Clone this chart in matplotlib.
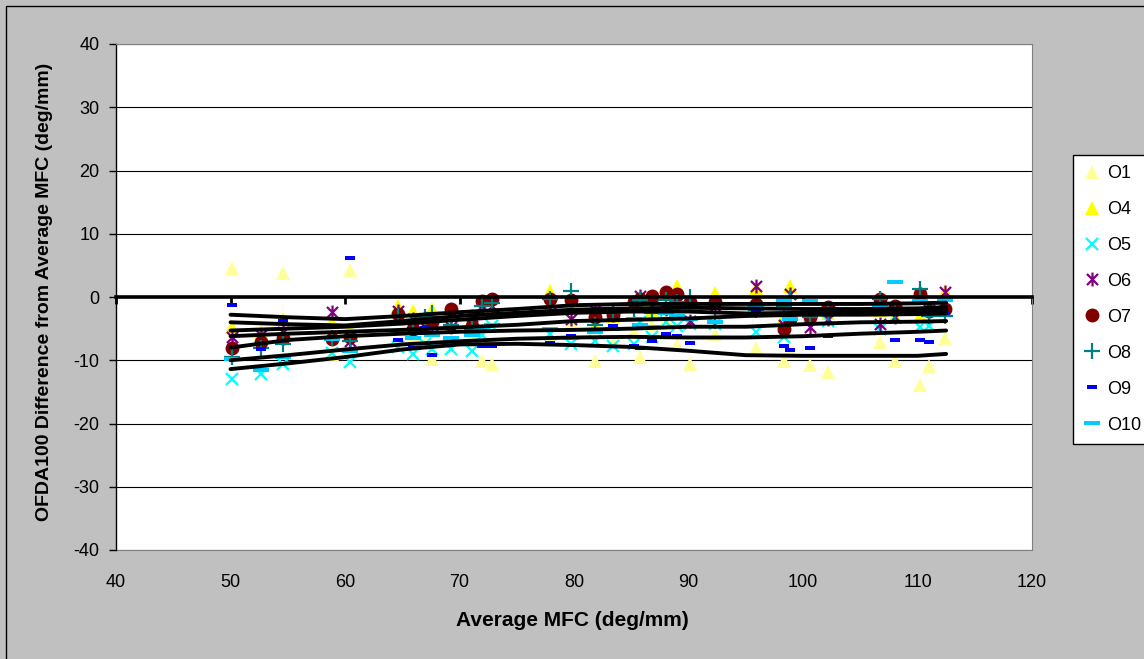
import matplotlib
matplotlib.use("Agg")
import matplotlib.pyplot as plt
from matplotlib.path import Path
from matplotlib.patches import Rectangle

plt.rcParams['font.family'] = ['Liberation Sans', 'DejaVu Sans']
plt.rcParams['axes.unicode_minus'] = False

# average MFC per sample (deg/mm)
mfc = [50.1, 52.7, 54.6, 58.9, 60.4, 64.6, 65.9, 67.0, 67.6, 69.3, 71.1, 72.0,
       72.8, 77.9, 79.7, 81.8, 83.4, 85.2, 85.8, 86.8, 88.0, 89.0, 90.1, 92.3,
       95.9, 98.3, 98.9, 100.6, 102.2, 106.7, 108.0, 110.2, 111.0, 112.4]

# OFDA100 minus average MFC, per operator
o1 = [4.6, -6.5, 3.8, -9.0, 4.3, -3.5, -6.0, -7.0, -9.8, -6.5, -6.0, -10.1,
      -10.6, -6.5, -4.0, -10.1, -7.0, -5.5, -9.5, -4.5, -3.5, -7.6, -10.6, -5.8,
      -8.0, -10.1, -8.5, -10.7, -11.8, -7.1, -10.1, -13.9, -10.9, -6.5]
o4 = [-4.8, -5.5, -3.5, -4.0, -5.0, -1.4, -2.2, -3.0, -1.9, -4.7, -3.5, -2.5,
      -2.0, 1.0, -1.5, -4.6, -3.0, -1.5, -0.5, -2.0, -1.0, 1.7, -0.5, 0.6,
      1.5, -3.0, 1.8, -3.5, -2.5, -2.0, -3.0, -3.0, -2.0, 1.0]
o5 = [-13.0, -12.2, -10.6, -8.8, -10.3, -7.9, -9.0, -7.5, -8.2, -8.2, -8.6, -6.0,
      -4.6, -5.8, -7.4, -6.9, -7.7, -7.4, -4.0, -6.3, -4.0, -4.6, -4.3, -4.3,
      -5.5, -6.3, -3.5, -3.0, -3.8, -5.1, -3.2, -4.7, -4.6, -2.2]
o6 = [-6.3, -6.0, -5.5, -2.4, -7.0, -2.2, -3.5, -4.7, -4.5, -4.8, -3.0, -1.5,
      -1.5, -1.0, -3.5, -2.0, -2.5, -1.0, 0.1, -1.5, -1.9, -1.0, -3.8, -1.5,
      1.8, -4.5, 0.5, -4.7, -3.5, -4.3, -3.2, 0.5, -2.0, 0.8]
o7 = [-8.1, -7.1, -6.5, -6.6, -6.3, -2.7, -5.0, -3.5, -4.0, -1.9, -4.6, -0.6,
      -0.3, -0.3, -0.5, -3.2, -2.8, -0.8, -0.3, 0.2, 0.8, 0.5, -0.8, -0.8,
      -1.1, -5.0, -3.5, -3.2, -1.6, -0.3, -1.4, 0.5, -2.2, -1.9]
o8 = [-9.5, -8.0, -7.5, -6.5, -7.0, -3.0, -4.0, -3.2, -2.5, -4.5, -5.0, -1.5,
      -1.0, -0.3, 1.0, -4.5, -2.5, -2.0, -0.5, -2.5, -0.5, -0.8, 0.0, -3.8,
      -2.0, -1.5, -0.2, -3.2, -2.5, -0.3, -2.5, 1.3, -3.0, -3.0]
o9 = [-1.3, -8.2, -3.8, -6.5, 6.1, -6.8, -8.1, -4.9, -9.2, -4.9, -5.5, -7.7,
      -7.7, -7.3, -6.2, -5.5, -4.6, -7.7, -8.1, -6.9, -5.8, -6.2, -7.3, -4.0,
      -2.2, -7.7, -8.4, -8.1, -6.2, -2.5, -6.8, -6.8, -7.1, -2.5]
o10 = [-9.8, -11.5, -9.5, -6.6, -8.5, -5.5, -6.5, -7.5, -6.0, -6.5, -6.0, -5.1,
       -4.5, -5.0, -6.5, -5.5, -5.1, -3.5, -4.5, -4.7, -2.5, -3.0, -3.5, -4.0,
       -1.5, -0.5, -3.5, -0.6, -2.7, -1.5, 2.3, -0.6, -2.0, -0.5]

# trend curves
trend_x = [50, 55, 60, 65, 70, 75, 80, 85, 90, 95, 100, 105, 110, 112.5]
trends = [
    [-2.8, -3.2, -3.5, -3.0, -2.4, -1.9, -1.3, -1.1, -1.1, -1.1, -1.1, -1.1, -1.0, -0.9],
    [-4.0, -4.3, -4.5, -3.8, -3.0, -2.5, -2.0, -1.8, -1.7, -1.8, -1.9, -1.9, -1.8, -1.6],
    [-5.3, -5.0, -4.7, -4.2, -3.6, -3.0, -2.5, -2.3, -2.3, -2.6, -2.5, -2.3, -2.2, -2.0],
    [-6.2, -5.8, -5.5, -5.2, -4.8, -4.4, -3.8, -3.6, -3.4, -3.0, -2.8, -2.8, -2.7, -2.6],
    [-8.0, -6.8, -6.2, -5.8, -5.5, -5.3, -5.2, -5.0, -4.7, -4.7, -4.3, -4.0, -3.9, -3.8],
    [-10.0, -9.2, -8.3, -7.5, -7.0, -6.6, -6.4, -6.3, -6.4, -6.4, -6.2, -5.8, -5.5, -5.3],
    [-11.4, -10.5, -9.5, -8.3, -7.5, -7.4, -7.6, -7.9, -8.5, -9.2, -9.3, -9.3, -9.3, -9.0],
]

# custom markers: Excel-style star and dashes
star = Path([(0, -1), (0, 1), (-0.8, -0.8), (0.8, 0.8), (-0.8, 0.8), (0.8, -0.8)],
            [Path.MOVETO, Path.LINETO] * 3)
dash_s = Path([(-1, -0.5), (1, -0.5), (1, 0.5), (-1, 0.5), (-1, -0.5)],
              [Path.MOVETO, Path.LINETO, Path.LINETO, Path.LINETO, Path.CLOSEPOLY])
dash_l = Path([(-1, -0.32), (1, -0.32), (1, 0.32), (-1, 0.32), (-1, -0.32)],
              [Path.MOVETO, Path.LINETO, Path.LINETO, Path.LINETO, Path.CLOSEPOLY])

series = [
    ('O1', o1, dict(marker='^', color='#FFFF99', ms=10, mew=0)),
    ('O4', o4, dict(marker='^', color='#FFFF00', ms=10, mew=0)),
    ('O5', o5, dict(marker='x', color='#00FFFF', ms=9, mew=1.6)),
    ('O6', o6, dict(marker=star, color='#800080', ms=10, mew=1.6)),
    ('O7', o7, dict(marker='o', color='#800000', ms=10, mew=0)),
    ('O8', o8, dict(marker='+', color='#008080', ms=11, mew=1.6)),
    ('O9', o9, dict(marker=dash_s, color='#0000FF', ms=7, mew=0)),
    ('O10', o10, dict(marker=dash_l, color='#00CCFF', ms=11, mew=0)),
]

W, H = 1144, 659
fig = plt.figure(figsize=(W / 100, H / 100), dpi=100)
fig.patch.set_facecolor('#C0C0C0')
ax = fig.add_axes([116 / W, 1 - 550 / H, 916 / W, 506 / H])
ax.set_facecolor('white')

for name, vals, st in series:
    ax.plot(mfc, vals, linestyle='none', label=name, zorder=3, **st)

for tr in trends:
    ax.plot(trend_x, tr, color='black', lw=2.8, solid_capstyle='round',
            label='_nolegend_', zorder=4)

ax.set_xlim(40, 120)
ax.set_ylim(-40, 40)
ax.set_yticks(range(-40, 41, 10))
ax.set_xticks(range(40, 121, 10))
ax.yaxis.grid(True, color='black', lw=0.8)
ax.set_axisbelow(True)

# x axis line crosses at zero, labels sit at the bottom
ax.spines['bottom'].set_position(('data', 0))
ax.spines['bottom'].set_linewidth(2.6)
ax.spines['bottom'].set_zorder(5)
ax.tick_params(axis='x', direction='out', length=5, width=2, labelbottom=False)
ax.spines['left'].set_color('black')
ax.spines['left'].set_linewidth(1)
for s in ['top', 'right']:
    ax.spines[s].set_color('#808080')
ax.tick_params(axis='y', direction='out', length=5, width=1, pad=7, labelsize=13)

sec = ax.secondary_xaxis('bottom')
sec.set_xticks(range(40, 121, 10))
sec.tick_params(length=0, pad=17, labelsize=13)
sec.spines['bottom'].set_color('#808080')

fig.text(45 / W, 1 - 292 / H, 'OFDA100 Difference from Average MFC (deg/mm)',
         rotation=90, ha='center', va='center', fontsize=14, fontweight='bold')
fig.text(572 / W, 1 - 620 / H, 'Average MFC (deg/mm)',
         ha='center', va='center', fontsize=15, fontweight='bold')

leg = ax.legend(loc='upper left', bbox_to_anchor=(1073 / W, 1 - 155 / H),
                bbox_transform=fig.transFigure, frameon=True, fancybox=False,
                framealpha=1, fontsize=13, labelspacing=1.05, handlelength=1.0,
                handletextpad=0.35, borderpad=0.55, borderaxespad=0,
                numpoints=1)
leg.get_frame().set_facecolor('white')
leg.get_frame().set_edgecolor('black')
leg.get_frame().set_linewidth(1)

fig.add_artist(Rectangle((6 / W, -0.02), 1.1, 1 - 6 / H + 0.02,
                         transform=fig.transFigure, fill=False,
                         edgecolor='black', lw=1))

fig.savefig('out.png', dpi=100, facecolor=fig.get_facecolor())
